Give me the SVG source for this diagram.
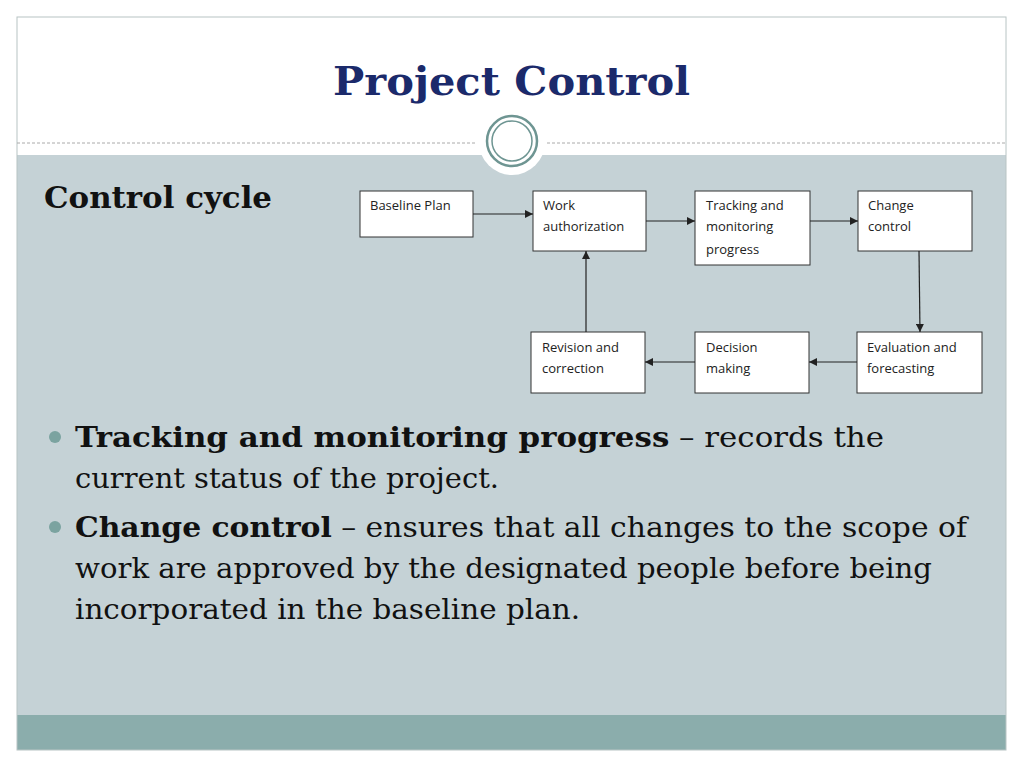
<svg xmlns="http://www.w3.org/2000/svg" width="1024" height="768" viewBox="0 0 1024 768">
<defs>
<style>
.box{fill:#fff;stroke:#333;stroke-width:1}
.bl{font-family:"Open Sans","Liberation Sans",sans-serif;font-size:13px;fill:#222}
.ser{font-family:"DejaVu Serif","Liberation Serif",serif}
.c{stroke:#222;stroke-width:1.2;fill:none;marker-end:url(#a)}
</style>
<marker id="a" viewBox="0 0 10 10" refX="10" refY="5" markerWidth="7" markerHeight="7" orient="auto"><path d="M0,0L10,5L0,10z" fill="#222"/></marker>
</defs>
<rect width="1024" height="768" fill="#fff"/>
<rect x="17" y="155" width="989" height="560" fill="#c5d2d6"/>
<rect x="17" y="715" width="989" height="35" fill="#8badac"/>
<rect x="17" y="17" width="989" height="733" fill="none" stroke="#b8c4c4"/>
<line x1="17" y1="143" x2="477" y2="143" stroke="#aaa" stroke-dasharray="3,2"/>
<line x1="547" y1="143" x2="1006" y2="143" stroke="#aaa" stroke-dasharray="3,2"/>
<circle cx="512" cy="142" r="33" fill="#fff"/>
<circle cx="512" cy="141" r="25" fill="none" stroke="#6e9592" stroke-width="2.5"/>
<circle cx="512" cy="141" r="20" fill="none" stroke="#6e9592" stroke-width="1.5"/>
<text class="ser" x="333" y="95" font-size="40" font-weight="bold" fill="#1b2a6b" textLength="357" lengthAdjust="spacingAndGlyphs">Project Control</text>
<text class="ser" x="44" y="208" font-size="29" font-weight="bold" fill="#111" textLength="228" lengthAdjust="spacingAndGlyphs">Control cycle</text>
<g id="n1"><rect class="box" x="360" y="191" width="113" height="46"/><text class="bl" x="370" y="210">Baseline Plan</text></g>
<g id="n2"><rect class="box" x="533" y="191" width="113" height="60"/><text class="bl" x="543" y="210">Work</text><text class="bl" x="543" y="231">authorization</text></g>
<g id="n3"><rect class="box" x="695" y="191" width="115" height="74"/><text class="bl" x="706" y="210">Tracking and</text><text class="bl" x="706" y="231">monitoring</text><text class="bl" x="706" y="254">progress</text></g>
<g id="n4"><rect class="box" x="858" y="191" width="114" height="60"/><text class="bl" x="868" y="210">Change</text><text class="bl" x="868" y="231">control</text></g>
<g id="n5"><rect class="box" x="857" y="332" width="125" height="61"/><text class="bl" x="867" y="352">Evaluation and</text><text class="bl" x="867" y="373">forecasting</text></g>
<g id="n6"><rect class="box" x="695" y="332" width="114" height="61"/><text class="bl" x="706" y="352">Decision</text><text class="bl" x="706" y="373">making</text></g>
<g id="n7"><rect class="box" x="531" y="332" width="114" height="61"/><text class="bl" x="542" y="352">Revision and</text><text class="bl" x="542" y="373">correction</text></g>
<g id="connectors">
<line class="c" x1="473" y1="214" x2="533" y2="214"/>
<line class="c" x1="646" y1="221" x2="695" y2="221"/>
<line class="c" x1="810" y1="221" x2="858" y2="221"/>
<line class="c" x1="919" y1="251" x2="920" y2="332"/>
<line class="c" x1="857" y1="362" x2="809" y2="362"/>
<line class="c" x1="695" y1="362" x2="645" y2="362"/>
<line class="c" x1="586" y1="332" x2="586" y2="251"/>
</g>
<g class="ser" font-size="28" fill="#111">
<circle cx="55" cy="437" r="6" fill="#7ba3a0"/>
<circle cx="55" cy="527" r="6" fill="#7ba3a0"/>
<text x="75" y="447" textLength="809" lengthAdjust="spacingAndGlyphs"><tspan font-weight="bold">Tracking and monitoring progress</tspan> – records the</text>
<text x="75" y="488" textLength="424" lengthAdjust="spacingAndGlyphs">current status of the project.</text>
<text x="75" y="537" textLength="892" lengthAdjust="spacingAndGlyphs"><tspan font-weight="bold">Change control</tspan> – ensures that all changes to the scope of</text>
<text x="75" y="578" textLength="857" lengthAdjust="spacingAndGlyphs">work are approved by the designated people before being</text>
<text x="75" y="619" textLength="505" lengthAdjust="spacingAndGlyphs">incorporated in the baseline plan.</text>
</g>
</svg>
